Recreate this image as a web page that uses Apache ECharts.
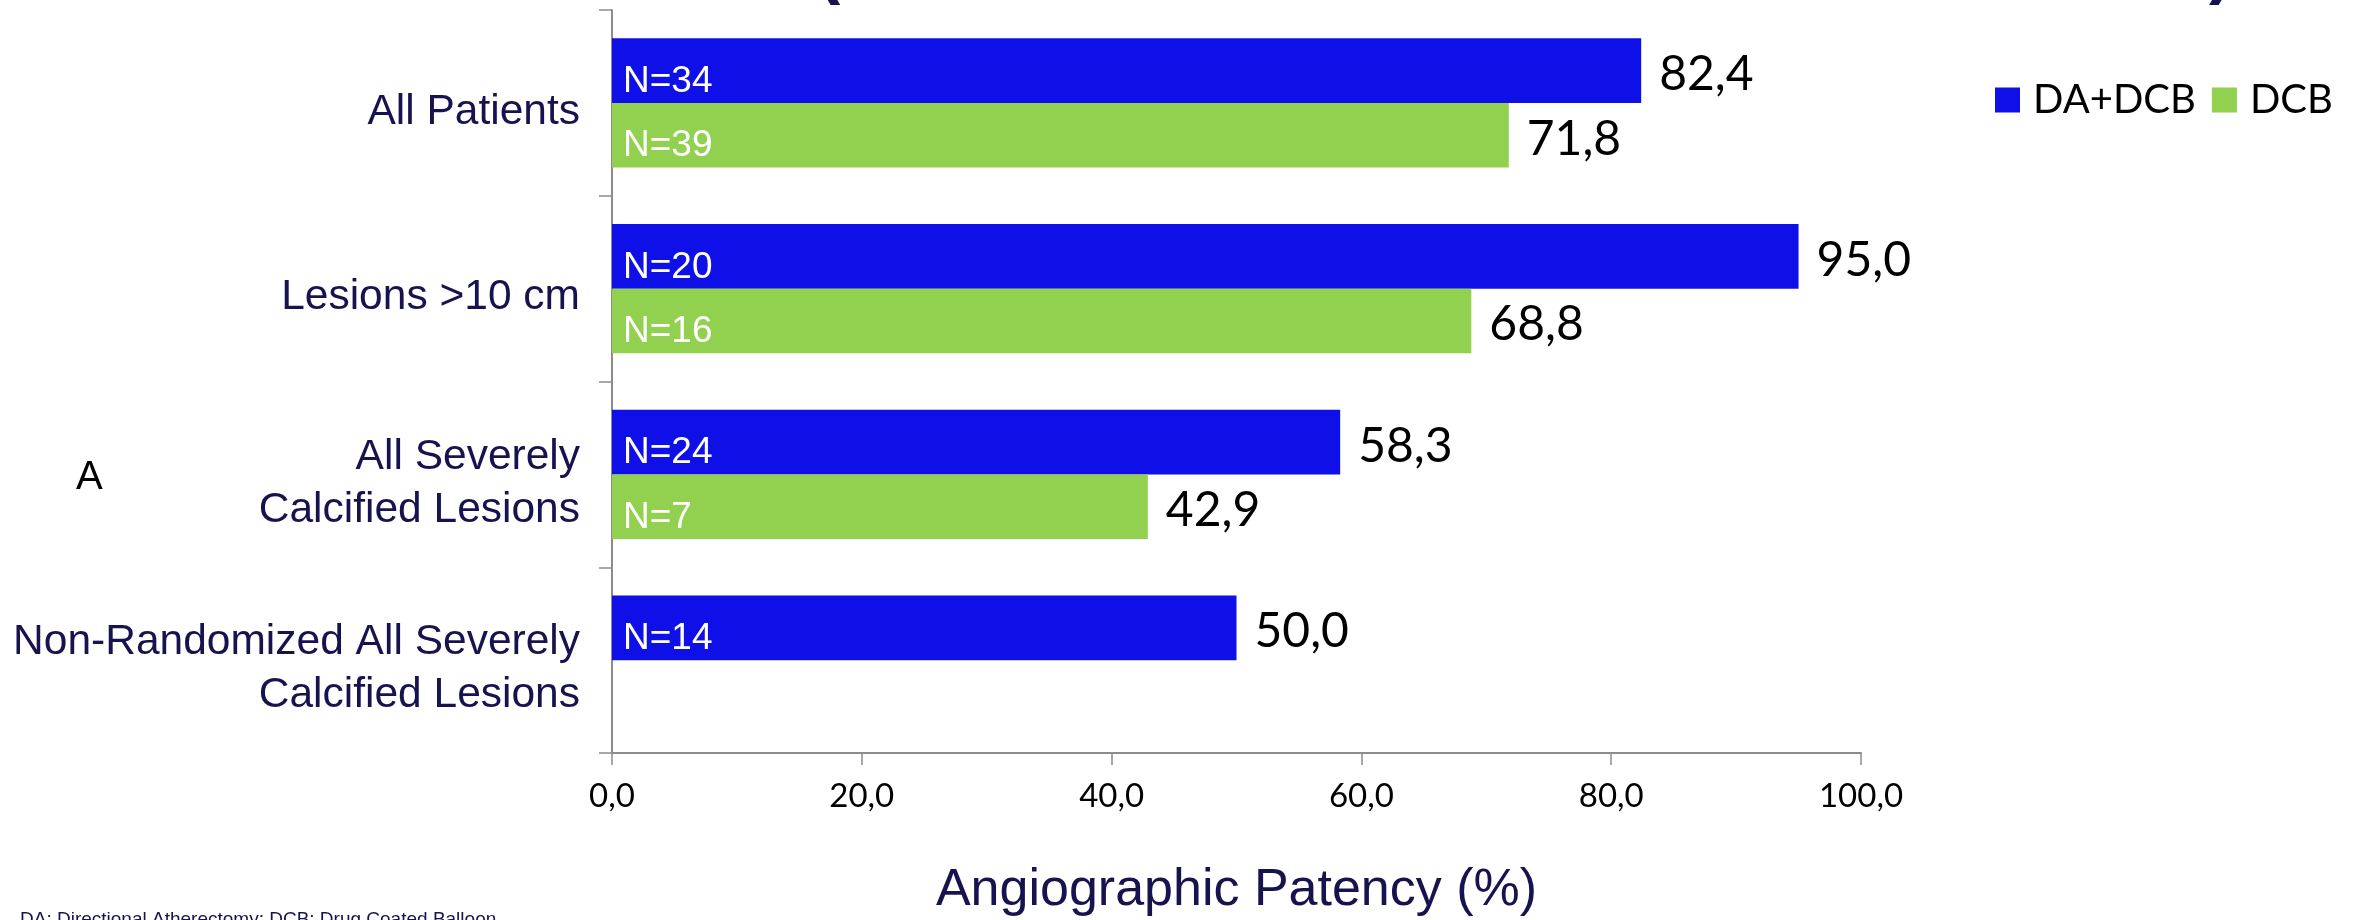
<!DOCTYPE html>
<html>
<head>
<meta charset="utf-8">
<script src="https://cdn.jsdelivr.net/npm/echarts@6/dist/echarts.min.js"></script>
<style>
    html, body { margin: 0; padding: 0; background: #fff; }
    #patency { width: 2364px; height: 920px; }
</style>
</head>
<body>
<div id="patency"></div>
<script>
var categories = ['All Patients', 'Lesions >10 cm', 'All Severely\nCalcified Lesions', 'Non-Randomized All Severely\nCalcified Lesions'];
var daDcbValues = [82.4, 95.0, 58.3, 50.0];
var dcbValues = [71.8, 68.8, 42.9, null];
var daDcbN = [34, 20, 24, 14];
var dcbN = [39, 16, 7, null];
var xTicks = [0, 20, 40, 60, 80, 100];

var navy = '#17134f';
var blue = '#0f10e8';
var green = '#92d050';

function commaFmt(v) {
    return Number(v).toFixed(1).replace('.', ',');
}

function endData(values) {
    return values.map(function (v) { return v == null ? null : 0; });
}

// every line goes through the rich style so the labels sit a little lower
function categoryFmt(name) {
    return name.split('\n').map(function (l) { return '{c|' + l + '}'; }).join('\n');
}

function patencyChartInit() {
    var chartDom = document.getElementById('patency');
    var myChart = echarts.init(chartDom);
    var option;

    var nLabel = {
        show: true,
        position: 'insideLeft',
        distance: 11,
        offset: [0, 11],
        color: '#fff',
        fontFamily: 'Liberation Sans',
        fontSize: 37
    };
    var valueLabel = {
        show: true,
        position: 'right',
        distance: 18,
        offset: [0, 4],
        color: '#000',
        fontFamily: 'Lato',
        fontSize: 48
    };

    option = {
        animation: false,
        grid: { left: 612, right: 503, top: 10, bottom: 167, containLabel: false, outerBoundsMode: 'none' },
        legend: {
            data: ['DA+DCB', 'DCB'],
            left: 1990,
            top: 75,
            itemWidth: 25,
            itemHeight: 25,
            itemGap: 16,
            icon: 'rect',
            textStyle: { fontFamily: 'Lato', fontSize: 40, color: '#000', padding: [0, 0, 0, 8] }
        },
        xAxis: {
            type: 'value',
            min: xTicks[0],
            max: xTicks[xTicks.length - 1],
            interval: xTicks[1] - xTicks[0],
            splitLine: { show: false },
            axisLine: { show: true, lineStyle: { color: '#8c8c8c', width: 2 } },
            axisTick: { show: true, length: 12, lineStyle: { color: '#8c8c8c', width: 1.5 } },
            axisLabel: {
                margin: 27,
                fontFamily: 'Lato',
                fontSize: 33,
                color: '#000',
                formatter: commaFmt
            },
            name: 'Angiographic Patency (%)',
            nameLocation: 'middle',
            nameGap: 112,
            nameTextStyle: { fontFamily: 'Liberation Sans', fontSize: 52, color: navy }
        },
        yAxis: {
            type: 'category',
            inverse: true,
            data: categories,
            axisLine: { show: true, lineStyle: { color: '#8c8c8c', width: 2 } },
            axisTick: { show: true, length: 13, lineStyle: { color: '#8c8c8c', width: 1.5 } },
            axisLabel: {
                margin: 32,
                fontFamily: 'Liberation Sans',
                fontSize: 42.5,
                lineHeight: 53,
                color: navy,
                align: 'right',
                formatter: categoryFmt,
                rich: {
                    c: { fontFamily: 'Liberation Sans', fontSize: 42.5, lineHeight: 53, color: navy, align: 'right', padding: [18, 0, 0, 0] }
                }
            }
        },
        graphic: [
            { type: 'text', left: 20, top: 910, style: { text: 'DA: Directional Atherectomy; DCB: Drug Coated Balloon', font: '19px "Liberation Sans"', fill: navy } },
            { type: 'text', left: 76, top: 458, style: { text: 'A', font: '40px "Liberation Sans"', fill: '#000' } },
            { type: 'text', left: 817, top: -64, style: { text: '(', font: 'bold 70px "Liberation Sans"', fill: navy } },
            { type: 'text', left: 2209, top: -64, style: { text: ')', font: 'bold 70px "Liberation Sans"', fill: navy } }
        ],
        series: [
            {
                name: 'DA+DCB',
                type: 'bar',
                stack: 'da',
                barGap: 0,
                barCategoryGap: '30.5%',
                itemStyle: { color: blue },
                label: Object.assign({}, nLabel, {
                    formatter: function (p) { return 'N=' + daDcbN[p.dataIndex]; }
                }),
                data: daDcbValues
            },
            {
                name: 'DA+DCB',
                type: 'bar',
                stack: 'da',
                itemStyle: { color: blue },
                label: Object.assign({}, valueLabel, {
                    formatter: function (p) { return commaFmt(daDcbValues[p.dataIndex]); }
                }),
                data: endData(daDcbValues)
            },
            {
                name: 'DCB',
                type: 'bar',
                stack: 'dcb',
                itemStyle: { color: green },
                label: Object.assign({}, nLabel, {
                    formatter: function (p) { return 'N=' + dcbN[p.dataIndex]; }
                }),
                data: dcbValues
            },
            {
                name: 'DCB',
                type: 'bar',
                stack: 'dcb',
                itemStyle: { color: green },
                label: Object.assign({}, valueLabel, {
                    formatter: function (p) { return commaFmt(dcbValues[p.dataIndex]); }
                }),
                data: endData(dcbValues)
            }
        ]
    };

    option && myChart.setOption(option);
}

patencyChartInit();
</script>
</body>
</html>
